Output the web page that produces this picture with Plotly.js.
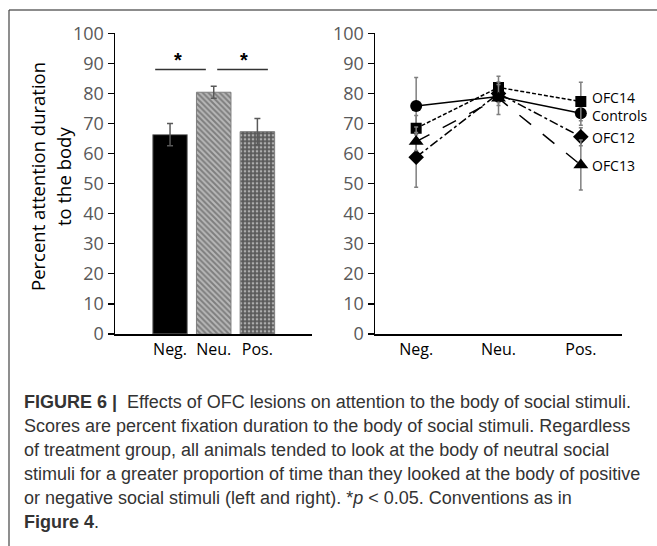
<!DOCTYPE html>
<html>
<head>
<meta charset="utf-8">
<script src="https://cdn.plot.ly/plotly-3.0.1.min.js"></script>
<style>html,body{margin:0;padding:0;background:#fff;}#chart{width:657px;height:546px;}</style>
</head>
<body>
<div id="chart"></div>
<script>
// ---- data ----
var categories = ["Neg.", "Neu.", "Pos."];
var barValues = [66.3, 80.4, 67.3];
var barErrors = [3.7, 2.0, 4.4];

var seriesNames = ["Controls", "OFC14", "OFC12", "OFC13"];
var controls = [75.8, 79.0, 73.4];
var controlsErr = [9.5, 3.0, 4.0];
var ofc14 = [68.4, 82.0, 77.3];
var ofc14Err = [4.3, 3.7, 6.4];
var ofc12 = [58.8, 80.0, 65.6];
var ofc12Err = [10.0, 3.0, 3.0];
var ofc13 = [64.0, 78.4, 56.2];
var ofc13Err = [3.0, 5.4, 8.3];

var yTicks = [0, 10, 20, 30, 40, 50, 60, 70, 80, 90, 100];
var sigLevel = 88;

var captionLines = [
  "<b>FIGURE 6</b> <b>|</b>  Effects of OFC lesions on attention to the body of social stimuli.",
  "Scores are percent fixation duration to the body of social stimuli. Regardless",
  "of treatment group, all animals tended to look at the body of neutral social",
  "stimuli for a greater proportion of time than they looked at the body of positive",
  "or negative social stimuli (left and right). *<i>p</i> &lt; 0.05. Conventions as in",
  "<b>Figure 4</b>."
];

// ---- helpers ----
var W = 657, H = 546;
function px(x){ return x / W; }
function py(y){ return 1 - y / H; }
var idx = [0, 1, 2];

var tickFont = {family: "Open Sans, Liberation Sans, sans-serif", size: 18, color: "#595959"};
var catFont = {family: "Open Sans, Liberation Sans, sans-serif", size: 16, color: "#000"};

var traces = [
  {
    type: "bar", x: idx, y: barValues, xaxis: "x", yaxis: "y", width: 0.79,
    marker: {
      color: ["#000000", "#b8b8b8", "#5a5a5a"],
      line: {color: "#7f7f7f", width: 1},
      pattern: {shape: ["", "\\", "."], fgcolor: ["#000000", "#000000", "#ffffff"], size: [4, 4, 4], solidity: [0.5, 0.5, 0.35], fillmode: "overlay"}
    },
    error_y: {type: "data", array: barErrors, visible: true, color: "#595959", thickness: 1.5, width: 3},
    showlegend: false, hoverinfo: "skip"
  }
];

var lineStyles = [
  {data: controls, err: controlsErr, dash: "solid", symbol: "circle", size: 12},
  {data: ofc14, err: ofc14Err, dash: "4px,2px", symbol: "square", size: 11},
  {data: ofc12, err: ofc12Err, dash: "dashdot", symbol: "diamond", size: 12},
  {data: ofc13, err: ofc13Err, dash: "longdash", symbol: "triangle-up", size: 13}
];
lineStyles.forEach(function(s, i){
  traces.push({
    type: "scatter", mode: "lines+markers", x: idx, y: s.data, xaxis: "x2", yaxis: "y2",
    name: seriesNames[i],
    line: {color: "#000", width: 1.5, dash: s.dash},
    marker: {symbol: s.symbol, size: s.size, color: "#000"},
    error_y: {type: "data", array: s.err, visible: true, color: "#7f7f7f", thickness: 1.5, width: 2},
    showlegend: false, hoverinfo: "skip"
  });
});

var annotations = [];
var titleFont = {family: "Open Sans, Liberation Sans, sans-serif", size: 18.5, color: "#000"};
annotations.push({xref: "paper", yref: "paper", x: px(38), y: py(177), text: "Percent attention duration",
  textangle: -90, showarrow: false, xanchor: "center", yanchor: "middle", font: titleFont});
annotations.push({xref: "paper", yref: "paper", x: px(64), y: py(177), text: "to the body",
  textangle: -90, showarrow: false, xanchor: "center", yanchor: "middle", font: titleFont});
// significance stars
annotations.push({xref: "x", yref: "y", x: 0.18, y: sigLevel, text: "<b>*</b>", showarrow: false, yanchor: "bottom",
  font: {family: "Liberation Sans, sans-serif", size: 20, color: "#000"}, yshift: -4});
annotations.push({xref: "x", yref: "y", x: 1.70, y: sigLevel, text: "<b>*</b>", showarrow: false, yanchor: "bottom",
  font: {family: "Liberation Sans, sans-serif", size: 20, color: "#000"}, yshift: -4});
// series labels
var labelY = [72.6, 78.8, 65.5, 55.9];
seriesNames.forEach(function(n, i){
  annotations.push({xref: "x2", yref: "y2", x: 2.11, y: labelY[i], text: n, showarrow: false,
    xanchor: "left", yanchor: "middle",
    font: {family: "Open Sans, Liberation Sans, sans-serif", size: 14, color: "#000"}});
});
// caption
var capY = [402, 426, 450, 474, 498, 522];
captionLines.forEach(function(t, i){
  annotations.push({xref: "paper", yref: "paper", x: px(22), y: py(capY[i]), text: t, showarrow: false,
    xanchor: "left", yanchor: "middle",
    font: {family: "Liberation Sans Narrow, Liberation Sans, Arial, sans-serif", size: 18, color: "#333"}});
});

var shapes = [
  {type: "line", xref: "paper", yref: "paper", x0: px(9), x1: px(657), y0: py(10), y1: py(10), line: {color: "#666", width: 1.5}},
  {type: "line", xref: "paper", yref: "paper", x0: px(9), x1: px(9), y0: py(10), y1: py(546), line: {color: "#444", width: 1.2}},
  {type: "line", xref: "x", yref: "y", x0: -0.34, x1: 0.82, y0: sigLevel, y1: sigLevel, line: {color: "#333", width: 1.5}},
  {type: "line", xref: "x", yref: "y", x0: 1.08, x1: 2.24, y0: sigLevel, y1: sigLevel, line: {color: "#333", width: 1.5}}
];

var layout = {
  width: W, height: H,
  margin: {l: 0, r: 0, t: 0, b: 0},
  paper_bgcolor: "#fff", plot_bgcolor: "rgba(0,0,0,0)",
  showlegend: false,
  xaxis: {domain: [px(115), px(312)], range: [-1.26, 3.25], tickvals: idx, ticktext: categories,
    showgrid: false, zeroline: false, showline: true, linecolor: "#000", linewidth: 1.5, ticks: "",
    tickfont: catFont, fixedrange: true},
  yaxis: {domain: [py(334), py(33.3)], range: [0, 100], tickvals: yTicks, showgrid: false, zeroline: false,
    showline: true, linecolor: "#000", linewidth: 1.5, ticks: "outside", ticklen: 6, tickcolor: "#000", tickwidth: 1.2,
    tickfont: tickFont, anchor: "x", fixedrange: true},
  xaxis2: {domain: [px(375), px(622)], range: [-0.5, 2.5], tickvals: idx, ticktext: categories, anchor: "y2",
    showgrid: false, zeroline: false, showline: true, linecolor: "#000", linewidth: 1.5, ticks: "",
    tickfont: catFont, fixedrange: true},
  yaxis2: {domain: [py(334), py(33.3)], range: [0, 100], tickvals: yTicks, showgrid: false, zeroline: false,
    showline: true, linecolor: "#000", linewidth: 1.5, ticks: "outside", ticklen: 6, tickcolor: "#000", tickwidth: 1.2,
    tickfont: tickFont, anchor: "x2", fixedrange: true},
  annotations: annotations,
  shapes: shapes
};

Plotly.newPlot("chart", traces, layout, {displayModeBar: false, staticPlot: true});
</script>
</body>
</html>
